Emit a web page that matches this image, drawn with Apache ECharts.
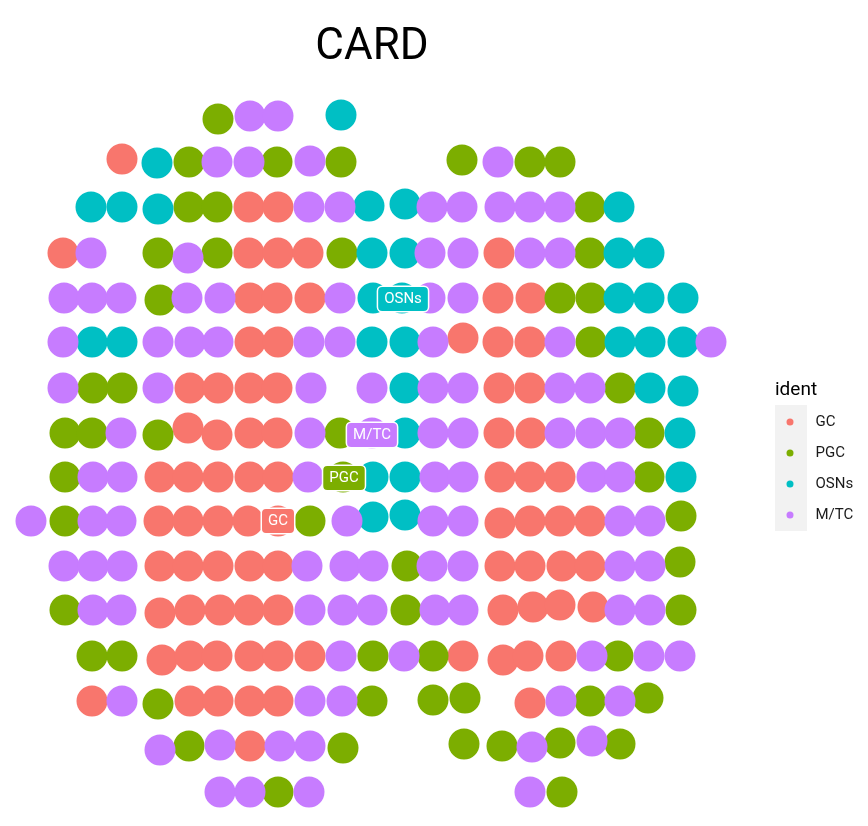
<!DOCTYPE html>
<html>
<head>
<meta charset="utf-8">
<script src="https://cdn.jsdelivr.net/npm/echarts@6/dist/echarts.min.js"></script>
<style>html,body{margin:0;padding:0;background:#fff}#chart{width:868px;height:826px}</style>
</head>
<body>
<div id="chart"></div>
<script>
// spatial spot coordinates [imagecol, imagerow]
const categories = ['GC', 'PGC', 'OSNs', 'M/TC'];
const colors = ['#F8766D', '#7CAE00', '#00BFC4', '#C77CFF'];

const gcPoints = [
  [122,159],
  [249,207],[278,207],
  [63,253],[249,253],[278,253],[308,253],[499,253],
  [250,298],[277,298],[310,298],[498,298],[531,298],
  [250,342],[278,342],[463,338],[498,342],[530,342],
  [190,388],[218,388],[250,388],[277,388],[499,388],[530,388],
  [188,428],[217,435],[250,433],[277,433],[499,433],[531,433],
  [160,477],[188,477],[218,477],[250,477],[278,477],[500,477],[530,477],[560,477],
  [159,521],[188,521],[218,521],[248,521],[278,521],[500,523],[530,521],[560,521],[590,521],
  [160,566],[188,566],[218,566],[250,566],[278,566],[500,566],[530,566],[562,566],[590,566],
  [160,613],[190,610],[220,610],[249,610],[278,610],[503,610],[533,607],[560,605],[593,607],
  [162,660],[190,656],[217,656],[250,656],[278,656],[310,656],[463,656],[503,660],[528,656],[561,656],
  [92,701],[190,701],[218,701],[250,701],[278,701],[530,703],
  [250,746]
];
const pgcPoints = [
  [218,119],
  [189,162],[277,162],[341,162],[462,160],[530,162],[560,162],
  [189,207],[217,207],[590,207],
  [158,253],[217,253],[342,253],[590,253],
  [160,300],[560,298],[591,298],
  [591,342],
  [93,388],[122,388],[620,388],
  [65,433],[92,433],[158,435],[340,433],[649,433],
  [65,477],[343,477],[649,477],
  [65,521],[310,521],[681,516],
  [407,566],[680,562],
  [65,610],[406,610],[681,610],
  [92,656],[122,656],[373,656],[433,656],[618,656],
  [158,704],[372,701],[433,700],[465,698],[590,701],[648,698],
  [189,746],[343,748],[464,744],[502,746],[560,743],[620,744],
  [278,792],[562,792]
];
const osnPoints = [
  [341,115],
  [157,163],
  [91,207],[122,207],[158,209],[369,206],[405,204],[619,207],
  [372,253],[405,253],[619,253],[649,253],
  [373,298],[402,298],[619,298],[649,298],[683,298],
  [92,342],[122,342],[372,342],[405,342],[620,342],[650,342],[683,342],
  [405,388],[650,388],[683,391],
  [405,433],[680,433],
  [373,477],[405,477],[681,477],
  [373,517],[405,515]
];
const mtcPoints = [
  [250,116],[278,116],
  [217,162],[249,162],[310,161],[498,162],
  [309,207],[340,207],[432,207],[462,207],[500,207],[530,207],[560,207],
  [91,253],[188,258],[430,253],[463,253],[530,253],[560,253],
  [64,298],[92,298],[121,298],[187,298],[220,298],[340,298],[430,298],[463,298],
  [63,342],[158,342],[190,342],[218,342],[309,342],[340,342],[433,342],[560,342],[711,342],
  [63,388],[158,388],[311,388],[372,388],[433,388],[463,388],[560,388],[590,388],
  [121,433],[310,433],[372,433],[433,433],[463,433],[560,433],[591,433],[620,433],
  [93,477],[122,477],[308,477],[435,477],[463,477],[592,477],[620,477],
  [31,521],[93,521],[121,521],[347,521],[433,521],[463,521],[620,521],[650,521],
  [64,566],[93,566],[122,566],[307,566],[345,566],[373,566],[432,566],[463,566],[620,566],[650,566],
  [93,610],[121,610],[310,610],[343,610],[372,610],[435,610],[463,610],[620,610],[650,610],
  [341,656],[404,656],[592,656],[649,656],[680,656],
  [122,701],[310,701],[342,701],[561,701],[620,701],
  [160,750],[220,745],[280,746],[310,746],[532,747],[592,741],
  [220,792],[250,792],[309,792],[530,792]
];
const seriesPoints = [gcPoints, pgcPoints, osnPoints, mtcPoints];

// cluster label anchors [imagecol, imagerow, text]
const labelPoints = [
  [403,299,'OSNs'],
  [372,435,'M/TC'],
  [344,478,'PGC'],
  [278,521,'GC']
];
const labelColors = ['#00BFC4', '#C77CFF', '#7CAE00', '#F8766D'];

const font = 'Roboto, "Liberation Sans", Arial, sans-serif';
const chart = echarts.init(document.getElementById('chart'));

const series = categories.map((name, i) => ({
  name: name,
  type: 'scatter',
  data: seriesPoints[i],
  symbol: 'circle',
  symbolSize: 31,
  itemStyle: { color: colors[i], opacity: 1 },
  emphasis: { disabled: true },
  silent: true,
  z: 2
}));

series.push({
  name: 'labels',
  type: 'scatter',
  symbolSize: 0,
  silent: true,
  z: 10,
  itemStyle: { opacity: 1 },
  emphasis: { disabled: true },
  data: labelPoints.map((p, i) => ({
    value: [p[0], p[1]],
    label: {
      show: true,
      position: 'inside',
      formatter: p[2],
      color: '#ffffff',
      opacity: 1,
      fontFamily: font,
      fontSize: 15,
      lineHeight: 16,
      backgroundColor: labelColors[i],
      borderColor: '#ffffff',
      borderWidth: 1.5,
      borderRadius: 4,
      padding: [4, 6, 4, 6]
    }
  }))
});

chart.setOption({
  animation: false,
  backgroundColor: '#ffffff',
  title: [
    { text: 'CARD', left: 367, textAlign: 'center', top: 21,
      textStyle: { fontFamily: font, fontSize: 44, fontWeight: 'normal', color: '#000000' } },
    { text: 'ident', left: 770, top: 376,
      textStyle: { fontFamily: font, fontSize: 19, fontWeight: 'normal', color: '#000000' } }
  ],
  graphic: [
    { type: 'rect', shape: { x: 775, y: 405, width: 32, height: 126 }, style: { fill: '#f2f2f2' }, z: 0, silent: true }
  ],
  legend: {
    data: categories,
    orient: 'vertical',
    left: 786.5,
    top: 413,
    padding: 0,
    itemWidth: 7,
    itemHeight: 7,
    itemGap: 13,
    icon: 'circle',
    selectedMode: false,
    textStyle: { fontFamily: font, fontSize: 15, lineHeight: 18, color: '#1a1a1a', padding: [0, 0, 0, 17] }
  },
  grid: { left: 0, right: 0, top: 0, bottom: 0 },
  xAxis: { type: 'value', min: 0, max: 868, show: false },
  yAxis: { type: 'value', min: 0, max: 826, inverse: true, show: false },
  series: series
});
</script>
</body>
</html>
